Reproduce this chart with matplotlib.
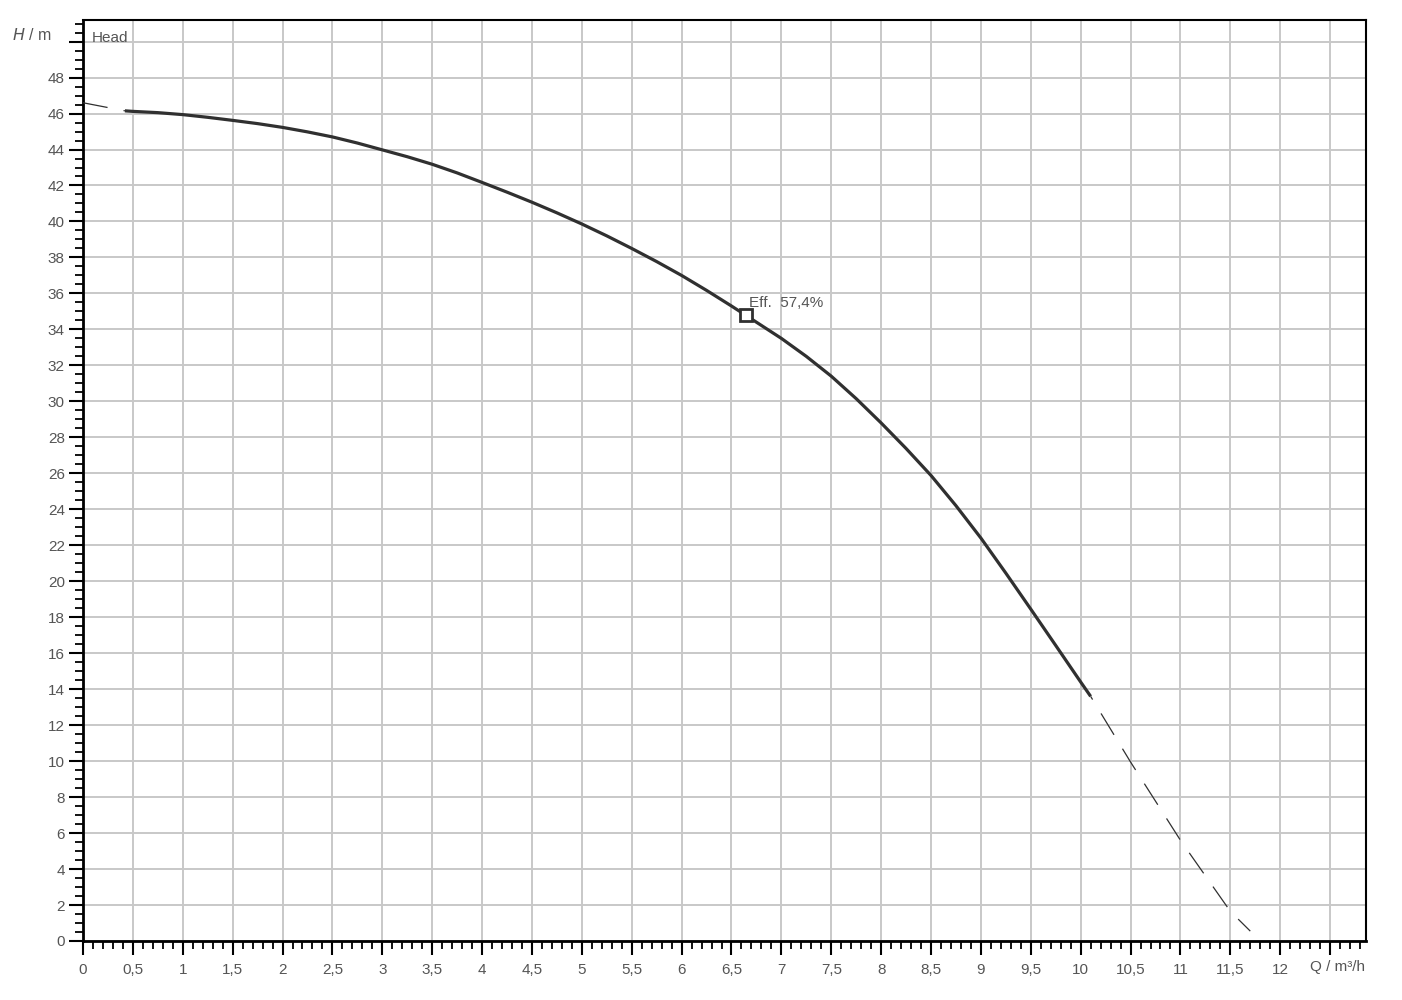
import numpy as np
import matplotlib.pyplot as plt
from matplotlib.ticker import MultipleLocator, FuncFormatter

plt.rcParams['font.family'] = ['Liberation Sans', 'DejaVu Sans']

# pump head curve (Q in m3/h, H in m)
q_solid = [0.42, 0.5, 0.75, 1.0, 1.25, 1.5, 1.75, 2.0, 2.25, 2.5, 2.75, 3.0,
           3.25, 3.5, 3.75, 4.0, 4.25, 4.5, 4.75, 5.0, 5.25, 5.5, 5.75, 6.0,
           6.25, 6.5, 6.75, 7.0, 7.25, 7.5, 7.75, 8.0, 8.25, 8.5, 8.75, 9.0,
           9.25, 9.5, 9.75, 10.0, 10.1]
h_solid = [46.15, 46.12, 46.05, 45.94, 45.79, 45.62, 45.44, 45.23, 44.98, 44.7,
           44.36, 43.98, 43.6, 43.18, 42.7, 42.17, 41.63, 41.07, 40.48, 39.86,
           39.2, 38.5, 37.77, 37.0, 36.17, 35.3, 34.4, 33.5, 32.5, 31.4,
           30.15, 28.8, 27.38, 25.88, 24.2, 22.4, 20.45, 18.45, 16.43, 14.4, 13.6]

q_dash_left = [0.0, 0.42]
h_dash_left = [46.6, 46.15]
q_dash_right = [10.1, 10.5, 11.0, 11.5, 11.7]
h_dash_right = [13.6, 9.95, 5.6, 1.65, 0.55]

q_bep, h_bep = 6.65, 34.8
bep_label = "Eff.  57,4%"

fig = plt.figure(figsize=(14.02, 10), dpi=100)
ax = fig.add_axes([83 / 1402, 1 - 941 / 1000, (1366 - 83) / 1402, (941 - 20) / 1000])

ax.plot(q_solid, h_solid, color='#303030', lw=2.3, solid_capstyle='butt', zorder=3)
ax.plot(q_dash_left, h_dash_left, color='#303030', lw=0.9, linestyle=(0, (20, 13)), zorder=3)
ax.plot(q_dash_right, h_dash_right, color='#303030', lw=0.9, linestyle=(17, (20, 13)), zorder=3)
ax.plot([q_bep], [h_bep], marker='s', ms=8, mfc='white', mec='#303030', mew=2, zorder=4)
ax.text(q_bep + 0.03, h_bep + 0.3, bep_label, fontsize=11, color='#555555',
        ha='left', va='bottom', zorder=5)

ax.set_xlim(0, 12.86)
ax.set_ylim(0, 51.2)

ax.set_xticks(np.arange(0, 12.51, 0.5))
ax.xaxis.set_minor_locator(MultipleLocator(0.1))
ax.set_yticks(np.arange(0, 50.01, 2))
ax.yaxis.set_minor_locator(MultipleLocator(0.5))

def fmt_x(v, pos):
    if v > 12.01:
        return ""
    return f"{v:g}".replace('.', ',')

def fmt_y(v, pos):
    if v > 48.01:
        return ""
    return f"{v:g}"

ax.xaxis.set_major_formatter(FuncFormatter(fmt_x))
ax.yaxis.set_major_formatter(FuncFormatter(fmt_y))

ax.grid(True, which='major', color='#c8c8c8', lw=1.4, zorder=0)
ax.set_axisbelow(True)

ax.tick_params(axis='both', which='major', direction='out', length=10, width=1.5,
               color='black', labelsize=11, labelcolor='#555555')
ax.tick_params(axis='both', which='minor', direction='out', length=6, width=1.3,
               color='black')
ax.tick_params(axis='x', which='major', pad=6)
ax.tick_params(axis='y', which='major', pad=3)

for side in ['left', 'bottom']:
    ax.spines[side].set_linewidth(2)
for side in ['top', 'right']:
    ax.spines[side].set_linewidth(1.5)

ax.text(0.09, 50.2, "Head", fontsize=11, color='#555555', ha='left', va='center')
fig.text(52 / 1402, 1 - 35 / 1000, r"$\mathit{H}$ / m", fontsize=11.5, color='#555555',
         ha='right', va='center')
fig.text(1337 / 1402, 1 - 967 / 1000, "Q / m³/h", fontsize=11, color='#555555',
         ha='center', va='center')

fig.savefig("out.png", dpi=100, facecolor='white')
